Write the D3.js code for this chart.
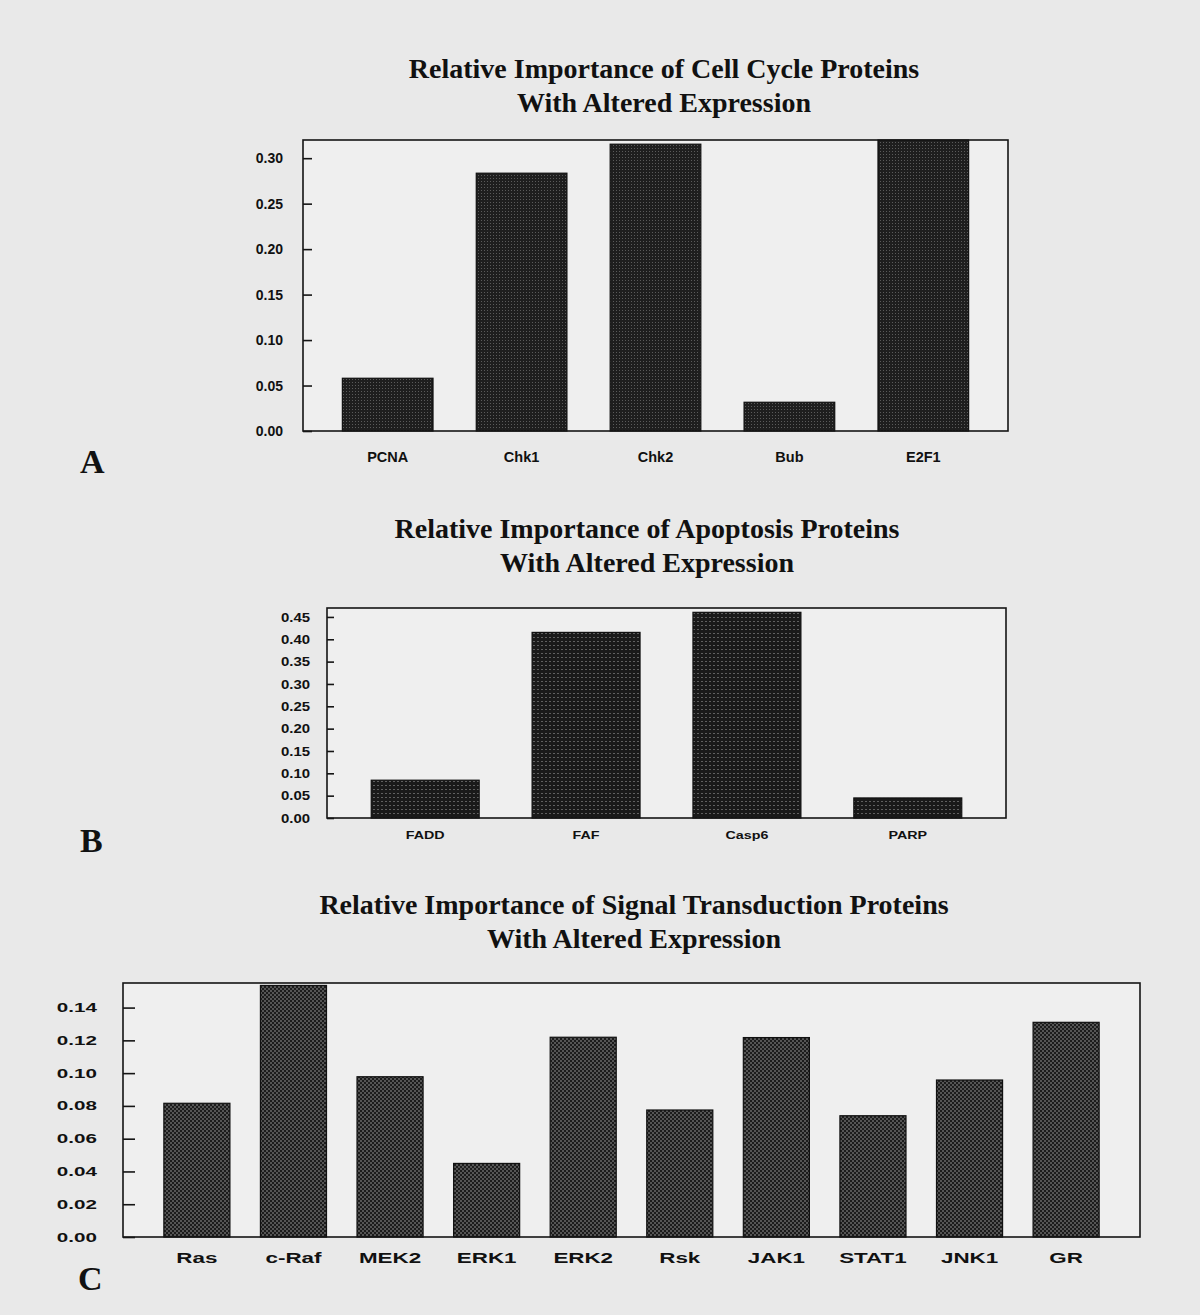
<!DOCTYPE html>
<html>
<head>
<meta charset="utf-8">
<script src="https://cdn.jsdelivr.net/npm/d3@7"></script>
<style>
  body { margin: 0; background: #e9e9e9; }
  svg { display: block; }
</style>
</head>
<body>
<div id="fig"></div>
<script>
const WIDTH = 1200;
const HEIGHT = 1315;

// panel A - cell cycle
const cycleProteins = ['PCNA', 'Chk1', 'Chk2', 'Bub', 'E2F1'];
const cycleValues = [0.058, 0.2835, 0.3154, 0.0316, 0.320];
const cycleTicks = [0, 0.05, 0.10, 0.15, 0.20, 0.25, 0.30];
const cycleTitle = ['Relative Importance of Cell Cycle Proteins', 'With Altered Expression'];

// panel B - apoptosis
const apoptosisProteins = ['FADD', 'FAF', 'Casp6', 'PARP'];
const apoptosisValues = [0.0846, 0.4154, 0.4603, 0.0449];
const apoptosisTicks = [0, 0.05, 0.10, 0.15, 0.20, 0.25, 0.30, 0.35, 0.40, 0.45];
const apoptosisTitle = ['Relative Importance of Apoptosis Proteins', 'With Altered Expression'];

// panel C - signal transduction
const signalProteins = ['Ras', 'c-Raf', 'MEK2', 'ERK1', 'ERK2', 'Rsk', 'JAK1', 'STAT1', 'JNK1', 'GR'];
const signalValues = [0.0816, 0.1535, 0.0978, 0.0449, 0.1219, 0.0775, 0.1217, 0.074, 0.0958, 0.131];
const signalTicks = [0, 0.02, 0.04, 0.06, 0.08, 0.10, 0.12, 0.14];
const signalTitle = ['Relative Importance of Signal Transduction Proteins', 'With Altered Expression'];

const svg = d3.select('#fig')
  .append('svg')
    .attr('width', WIDTH)
    .attr('height', HEIGHT);

svg.append('rect')
  .attr('width', WIDTH).attr('height', HEIGHT)
  .attr('fill', '#e9e9e9');

// halftone-ish fills for the bars
const defs = svg.append('defs');

const fine = defs.append('pattern')
  .attr('id', 'fine').attr('patternUnits', 'userSpaceOnUse')
  .attr('width', 3).attr('height', 3);
fine.append('rect').attr('width', 3).attr('height', 3).attr('fill', '#1e1e1e');
fine.append('rect').attr('x', 1).attr('y', 1).attr('width', 1).attr('height', 1).attr('fill', '#5a5a5a');

const dots = defs.append('pattern')
  .attr('id', 'dots').attr('patternUnits', 'userSpaceOnUse')
  .attr('width', 4).attr('height', 4);
dots.append('rect').attr('width', 4).attr('height', 4).attr('fill', '#1a1a1a');
dots.append('rect').attr('x', 1).attr('y', 1).attr('width', 2).attr('height', 1).attr('fill', '#606060');

const checker = defs.append('pattern')
  .attr('id', 'checker').attr('patternUnits', 'userSpaceOnUse')
  .attr('width', 4).attr('height', 4);
checker.append('rect').attr('width', 4).attr('height', 4).attr('fill', '#1c1c1c');
checker.append('rect').attr('width', 2).attr('height', 2).attr('fill', '#555');
checker.append('rect').attr('x', 2).attr('y', 2).attr('width', 2).attr('height', 2).attr('fill', '#555');


function drawPanel(cats, vals, ticks, title, opt) {

  const X_SCALE = d3.scaleBand()
    .domain(cats)
    .range([opt.left, opt.right])
    .paddingInner(opt.padIn)
    .paddingOuter(opt.padOut);

  const Y_SCALE = d3.scaleLinear()
    .domain([0, opt.max])
    .range([opt.bottom, opt.top]);

  const g = svg.append('g');

  // plot frame background
  g.append('rect')
    .attr('x', opt.left).attr('y', opt.top)
    .attr('width', opt.right - opt.left)
    .attr('height', opt.bottom - opt.top)
    .attr('fill', '#efefef');

  g.selectAll('.bar')
    .data(vals)
    .enter()
    .append('rect')
      .attr('class', 'bar')
      .attr('x', (d, i) => X_SCALE(cats[i]))
      .attr('y', (d) => Y_SCALE(d))
      .attr('width', X_SCALE.bandwidth())
      .attr('height', (d) => opt.bottom - Y_SCALE(d))
      .attr('fill', 'url(#' + opt.fill + ')')
      .attr('stroke', '#111')
      .attr('stroke-width', 1.2);

  g.append('rect')
    .attr('x', opt.left).attr('y', opt.top)
    .attr('width', opt.right - opt.left)
    .attr('height', opt.bottom - opt.top)
    .attr('fill', 'none')
    .attr('stroke', '#151515')
    .attr('stroke-width', 1.6);

  // y axis, ticks pointing into the frame
  const yAxis = g.append('g')
    .attr('transform', 'translate(' + opt.left + ',0)')
    .call(d3.axisLeft(Y_SCALE)
      .tickValues(ticks)
      .tickFormat(d3.format('.2f'))
      .tickSize(-opt.tickLen)
      .tickSizeOuter(0));
  yAxis.select('.domain').remove();
  yAxis.selectAll('line').attr('stroke', '#151515').attr('stroke-width', 1.6);
  yAxis.selectAll('text')
    .attr('x', 0)
    .attr('transform', 'translate(' + (-opt.yPad) + ',0) scale(' + opt.yScaleX + ',1)')
    .attr('fill', '#111')
    .style('font-family', '"Liberation Sans", Arial, sans-serif')
    .style('font-weight', 'bold')
    .style('font-size', opt.yFont + 'px');

  const xAxis = g.append('g')
    .attr('transform', 'translate(0,' + opt.bottom + ')')
    .call(d3.axisBottom(X_SCALE).tickSize(0).tickPadding(opt.xPad));
  xAxis.select('.domain').remove();
  xAxis.selectAll('text')
    .attr('transform', 'scale(' + opt.xScaleX + ',1)')
    .attr('fill', '#111')
    .style('font-family', '"Liberation Sans", Arial, sans-serif')
    .style('font-weight', 'bold')
    .style('font-size', opt.xFont + 'px');

  // two-line serif title
  g.selectAll('.title')
    .data(title)
    .enter()
    .append('text')
      .attr('class', 'title')
      .attr('x', opt.titleX)
      .attr('y', (d, i) => opt.titleY + i * 34)
      .attr('text-anchor', 'middle')
      .attr('fill', '#111')
      .style('font-family', '"Liberation Serif", "Times New Roman", serif')
      .style('font-weight', 'bold')
      .style('font-size', '28px')
      .text((d) => d);

  g.append('text')
    .attr('x', opt.letterX)
    .attr('y', opt.letterY)
    .attr('fill', '#111')
    .style('font-family', '"Liberation Serif", "Times New Roman", serif')
    .style('font-weight', 'bold')
    .style('font-size', '34px')
    .text(opt.letter);
}

drawPanel(cycleProteins, cycleValues, cycleTicks, cycleTitle, {
  left: 303, right: 1008, top: 140, bottom: 431, max: 0.32,
  padIn: 0.323, padOut: 0.294, fill: 'fine', tickLen: 9,
  yPad: 20, yFont: 14, yScaleX: 1, xPad: 21, xFont: 14.5, xScaleX: 1,
  titleX: 664, titleY: 78, letter: 'A', letterX: 80, letterY: 473
});

drawPanel(apoptosisProteins, apoptosisValues, apoptosisTicks, apoptosisTitle, {
  left: 327, right: 1006, top: 608, bottom: 818, max: 0.47,
  padIn: 0.329, padOut: 0.275, fill: 'dots', tickLen: 7,
  yPad: 17, yFont: 13, yScaleX: 1.15, xPad: 13, xFont: 11, xScaleX: 1.3,
  titleX: 647, titleY: 538, letter: 'B', letterX: 80, letterY: 852
});

drawPanel(signalProteins, signalValues, signalTicks, signalTitle, {
  left: 123, right: 1140, top: 983, bottom: 1237, max: 0.155,
  padIn: 0.316, padOut: 0.423, fill: 'checker', tickLen: 12,
  yPad: 26, yFont: 12.5, yScaleX: 1.65, xPad: 16, xFont: 14, xScaleX: 1.6,
  titleX: 634, titleY: 914, letter: 'C', letterX: 78, letterY: 1290
});
</script>
</body>
</html>
